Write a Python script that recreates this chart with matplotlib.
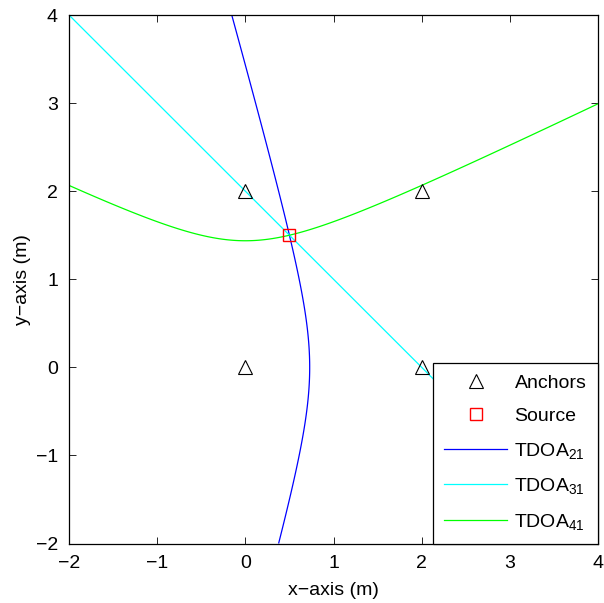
import numpy as np
import matplotlib.pyplot as plt
from matplotlib.lines import Line2D

plt.rcParams['font.family'] = ['Liberation Sans', 'DejaVu Sans']
plt.rcParams['mathtext.fontset'] = 'custom'
plt.rcParams['mathtext.rm'] = 'Liberation Sans'
plt.rcParams['mathtext.it'] = 'Liberation Sans'

# anchor positions (x, y), numbered 1..4
anchor_x = [0, 2, 2, 0]
anchor_y = [0, 0, 2, 2]
# source position
source_x = 0.5
source_y = 1.5

# TDOA pairs (i, j) relative to anchor 1, with colours
pairs = [(2, 1), (3, 1), (4, 1)]
pair_colors = ['#0000ff', '#00ffff', '#00ff00']

fig = plt.figure(figsize=(6.04, 6.03), dpi=100)
ax = fig.add_axes([69 / 604, 1 - 543.5 / 603, 529 / 604, 528.5 / 603])

# grid for the hyperbolas
gx, gy = np.meshgrid(np.linspace(-2, 4, 1201), np.linspace(-2, 4, 1201))

def dist(px, py, i):
    return np.hypot(px - anchor_x[i - 1], py - anchor_y[i - 1])

handles = []
for (i, j), c in zip(pairs, pair_colors):
    # range difference measured at the source
    r = dist(source_x, source_y, i) - dist(source_x, source_y, j)
    field = dist(gx, gy, i) - dist(gx, gy, j) - r
    ax.contour(gx, gy, field, levels=[0], colors=[c], linewidths=0.9)
    handles.append(Line2D([], [], color=c, lw=0.9))

ax.plot(anchor_x, anchor_y, '^', ms=10, mfc='none', mec='k', mew=0.8, ls='none')
ax.plot([source_x], [source_y], 's', ms=9, mfc='none', mec='r', mew=1.0, ls='none')

ax.set_xlim(-2, 4)
ax.set_ylim(-2, 4)
ticks = list(range(-2, 5))
tick_labels = ['\u22122', '\u22121', '0', '1', '2', '3', '4']
ax.set_xticks(ticks)
ax.set_yticks(ticks)
ax.set_xticklabels(tick_labels)
ax.set_yticklabels(tick_labels)
ax.tick_params(direction='in', top=True, right=True, labelsize=14, length=5, width=0.6, pad=8)
for s in ax.spines.values():
    s.set_linewidth(0.9)
ax.set_xlabel('x\u2212axis (m)', fontsize=14, labelpad=7.5)
ax.set_ylabel('y\u2212axis (m)', fontsize=14, labelpad=3)

leg_handles = [
    Line2D([], [], marker='^', ms=10, mfc='none', mec='k', mew=0.8, ls='none'),
    Line2D([], [], marker='s', ms=9, mfc='none', mec='r', mew=1.0, ls='none'),
] + handles
leg_labels = ['Anchors', 'Source', 'TDOA$_{21}$', 'TDOA$_{31}$', 'TDOA$_{41}$']
leg = ax.legend(leg_handles, leg_labels, loc='lower right', fontsize=14,
                fancybox=False, framealpha=1, edgecolor='k', borderaxespad=0,
                handlelength=3.2, handletextpad=0.4, labelspacing=0.8, borderpad=0.6)
leg.get_frame().set_linewidth(0.9)

fig.savefig('out.png', dpi=100)
